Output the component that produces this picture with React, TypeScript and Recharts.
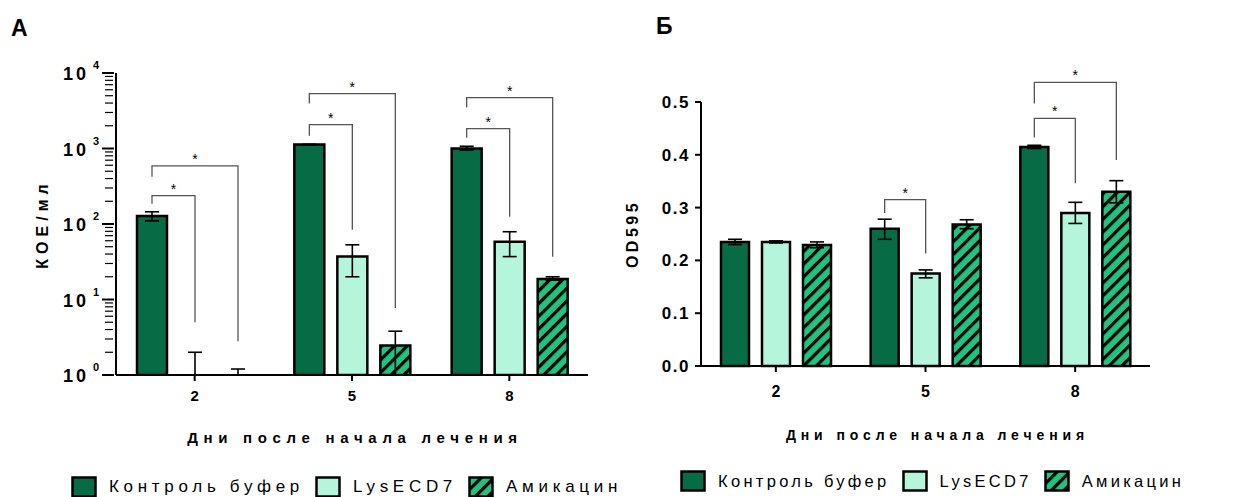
import React from "react";
import { Bar, BarChart, ErrorBar, Rectangle, XAxis, YAxis } from "recharts";

const days = ["2", "5", "8"];
const seriesNames = ["Контроль буфер", "LysECD7", "Амикацин"];

// Панель А — КОЕ/мл (лог шкала)
const cfuControl = [128, 1130, 1000];
const cfuControlErr = [[18, 17], [0, 0], [45, 70]];
const cfuLys = [1, 37, 58];
const cfuLysErr = [[0, 1], [17, 16], [21, 21]];
const cfuAmik = [1, 2.45, 18.7];
const cfuAmikErr = [[0, 0.2], [1.45, 1.35], [0.7, 1.3]];

// Панель Б — OD595
const odControl = [0.235, 0.26, 0.415];
const odControlErr = [[0.005, 0.005], [0.02, 0.018], [0.003, 0.003]];
const odLys = [0.235, 0.175, 0.29];
const odLysErr = [[0.002, 0.002], [0.008, 0.007], [0.02, 0.02]];
const odAmik = [0.229, 0.268, 0.33];
const odAmikErr = [[0.005, 0.006], [0.008, 0.009], [0.021, 0.021]];
const odTicks = [0, 0.1, 0.2, 0.3, 0.4, 0.5];

// скобки значимости: группа, от столбца, до столбца, верх, начало слева, конец справа
const cfuBrackets = [
  { g: 0, from: 0, to: 1, top: 237, left: 185, right: 5 },
  { g: 0, from: 0, to: 2, top: 590, left: 424, right: 2.8 },
  { g: 1, from: 0, to: 1, top: 2070, left: 1480, right: 84 },
  { g: 1, from: 0, to: 2, top: 5330, left: 3930, right: 7.7 },
  { g: 2, from: 0, to: 1, top: 1830, left: 1390, right: 125 },
  { g: 2, from: 0, to: 2, top: 4720, left: 3480, right: 36.7 },
];
const odBrackets = [
  { g: 1, from: 0, to: 1, top: 0.315, left: 0.29, right: 0.213 },
  { g: 2, from: 0, to: 1, top: 0.469, left: 0.433, right: 0.346 },
  { g: 2, from: 0, to: 2, top: 0.537, left: 0.497, right: 0.39 },
];

const DARK = "#076b45";
const MINT = "#b4f5dc";
const BRIGHT = "#1ec47f";
const FONT = "'Liberation Sans', Arial, sans-serif";
const BAR_GAP = 13;

const makeRows = (a: number[], ae: number[][], b: number[], be: number[][], c: number[], ce: number[][]) =>
  days.map((d, i) => ({ day: d, s0: a[i], e0: ae[i], s1: b[i], e1: be[i], s2: c[i], e2: ce[i] }));

const cfuData = makeRows(cfuControl, cfuControlErr, cfuLys, cfuLysErr, cfuAmik, cfuAmikErr);
const odData = makeRows(odControl, odControlErr, odLys, odLysErr, odAmik, odAmikErr);

const cfuAllTicks: number[] = [];
for (let k = 0; k < 4; k++) {
  for (let m = 1; m < 10; m++) cfuAllTicks.push(m * Math.pow(10, k));
}
cfuAllTicks.push(10000);

const Hatch = ({ id }: { id: string }) => (
  <defs>
    <pattern id={id} patternUnits="userSpaceOnUse" width="9" height="9" patternTransform="rotate(45)">
      <rect width="9" height="9" fill={BRIGHT} />
      <rect width="3.2" height="9" fill="#000" />
    </pattern>
  </defs>
);

// столбцы на уровне 10^0 не рисуем (нулевая высота), но усы остаются
const BarShape = (p: any) => (p.height < 1.5 ? <g /> : <Rectangle {...p} />);

const LogTick = (props: any) => {
  const { x, y, payload } = props;
  const v = payload.value;
  const exp = Math.round(Math.log10(v));
  const major = Math.abs(Math.log10(v) - exp) < 1e-6;
  if (!major) {
    return <line x1={x - 3} x2={x + 5} y1={y} y2={y} stroke="#000" strokeWidth={1.2} />;
  }
  return (
    <g>
      <line x1={x - 6} x2={x + 6} y1={y} y2={y} stroke="#000" strokeWidth={2} />
      <text x={x - 19} y={y + 7} textAnchor="end" fontFamily={FONT} fontWeight={700} fontSize={18} letterSpacing={3} fill="#000">
        10
      </text>
      <text x={x - 15} y={y - 4} textAnchor="start" fontFamily={FONT} fontWeight={700} fontSize={11} fill="#000">
        {exp}
      </text>
    </g>
  );
};

// скобки рисуются от столбца контроля; вертикальная шкала восстанавливается по самому столбцу
const bracketLabel = (list: typeof cfuBrackets, data: any[], isLog: boolean) => (props: any) => {
  const vb = props.viewBox && props.viewBox.width != null ? props.viewBox : props;
  const { x, y, width, height } = vb;
  let idx = props.index;
  if (idx == null) idx = data.findIndex((r) => r.s0 === props.value);
  const row = data[idx];
  if (!row) return null;
  const v = row.s0;
  const base = y + height;
  const toPx = (val: number) =>
    isLog ? base - (height * Math.log10(val)) / Math.log10(v) : base - (height * val) / v;
  const cx = x + width / 2;
  return (
    <g>
      {list
        .filter((b) => b.g === idx)
        .map((b, i) => {
          const x1 = cx + b.from * (width + BAR_GAP);
          const x2 = cx + b.to * (width + BAR_GAP);
          const yt = toPx(b.top);
          return (
            <g key={i}>
              <path
                d={`M${x1},${toPx(b.left)} V${yt} H${x2} V${toPx(b.right)}`}
                fill="none"
                stroke="#555"
                strokeWidth={1.3}
              />
              <text x={(x1 + x2) / 2} y={yt - 2} textAnchor="middle" fontFamily={FONT} fontSize={14} fill="#000">
                *
              </text>
            </g>
          );
        })}
    </g>
  );
};

const Legend = ({ left, top, hatchId, fontSize, spacing, gap }: { left: number; top: number; hatchId: string; fontSize: number; spacing: number; gap: number }) => {
  const fills = [DARK, MINT, `url(#${hatchId})`];
  return (
    <div style={{ position: "absolute", left, top, display: "flex", alignItems: "center", fontFamily: FONT, fontSize, letterSpacing: spacing, color: "#000", whiteSpace: "nowrap" }}>
      {seriesNames.map((n, i) => (
        <div key={n} style={{ display: "flex", alignItems: "center", marginRight: gap }}>
          <svg width={26} height={22} style={{ marginRight: 12 }}>
            <rect x={1.5} y={1.5} width={23} height={19} fill={fills[i]} stroke="#000" strokeWidth={2.5} />
          </svg>
          <span>{n}</span>
        </div>
      ))}
    </div>
  );
};

const axisTitle = { fontFamily: FONT, fontWeight: 700, fill: "#000" };
const err = { width: 7, stroke: "#000", strokeWidth: 1.6, direction: "y" as const };

export default function App() {
  return (
    <div style={{ position: "absolute", left: 0, top: 0, width: 1247, height: 497, background: "#fff", overflow: "hidden" }}>
      <div style={{ position: "absolute", left: 11, top: 15, fontFamily: FONT, fontWeight: 700, fontSize: 23 }}>А</div>
      <div style={{ position: "absolute", left: 656, top: 13, fontFamily: FONT, fontWeight: 700, fontSize: 23 }}>Б</div>

      <div style={{ position: "absolute", left: 0, top: 0 }}>
        <BarChart width={620} height={497} data={cfuData} margin={{ top: 73, right: 32, bottom: 52, left: 0 }} barSize={30} barGap={BAR_GAP} barCategoryGap={20}>
          <Hatch id="hatchA" />
          <XAxis dataKey="day" axisLine={{ stroke: "#000", strokeWidth: 2 }} tickLine={{ stroke: "#000", strokeWidth: 2 }} tickSize={6} tickMargin={9} height={70}
            tick={{ fontFamily: FONT, fontWeight: 700, fontSize: 15, fill: "#000" }}
            label={{ value: "Дни после начала лечения", position: "insideBottom", offset: 2, dx: 3, style: { ...axisTitle, fontSize: 15, letterSpacing: 5.7 } }} />
          <YAxis scale="log" domain={[1, 10000]} ticks={cfuAllTicks} interval={0} allowDataOverflow width={116}
            axisLine={{ stroke: "#000", strokeWidth: 2 }} tickLine={false} tick={<LogTick />}
            label={{ value: "КОЕ/мл", angle: -90, position: "insideLeft", offset: 42, style: { ...axisTitle, fontSize: 16, letterSpacing: 5, textAnchor: "middle" } }} />
          <Bar dataKey="s0" fill={DARK} stroke="#000" strokeWidth={2.5} isAnimationActive={false} label={bracketLabel(cfuBrackets, cfuData, true)}>
            <ErrorBar dataKey="e0" {...err} />
          </Bar>
          <Bar dataKey="s1" fill={MINT} stroke="#000" strokeWidth={2.5} minPointSize={1} shape={BarShape} isAnimationActive={false}>
            <ErrorBar dataKey="e1" {...err} />
          </Bar>
          <Bar dataKey="s2" fill="url(#hatchA)" stroke="#000" strokeWidth={2.5} minPointSize={1} shape={BarShape} isAnimationActive={false}>
            <ErrorBar dataKey="e2" {...err} />
          </Bar>
        </BarChart>
      </div>

      <div style={{ position: "absolute", left: 620, top: 0 }}>
        <BarChart width={627} height={497} data={odData} margin={{ top: 102, right: 97, bottom: 61, left: 0 }} barSize={28} barGap={BAR_GAP} barCategoryGap={20}>
          <Hatch id="hatchB" />
          <XAxis dataKey="day" axisLine={{ stroke: "#000", strokeWidth: 2 }} tickLine={{ stroke: "#000", strokeWidth: 2 }} tickSize={6} tickMargin={14} height={70}
            tick={{ fontFamily: FONT, fontWeight: 700, fontSize: 16, fill: "#000" }}
            label={{ value: "Дни после начала лечения", position: "insideBottom", offset: -4, dx: 12, style: { ...axisTitle, fontSize: 14, letterSpacing: 4.9 } }} />
          <YAxis domain={[0, 0.5]} ticks={odTicks} interval={0} width={81}
            axisLine={{ stroke: "#000", strokeWidth: 2 }} tickLine={{ stroke: "#000", strokeWidth: 2 }} tickSize={6} tickMargin={5}
            tickFormatter={(v: number) => v.toFixed(1)}
            tick={{ fontFamily: FONT, fontWeight: 700, fontSize: 17, fill: "#000", letterSpacing: 1.5 }}
            label={{ value: "OD595", angle: -90, position: "insideLeft", offset: 12, style: { ...axisTitle, fontSize: 16, letterSpacing: 3.5, textAnchor: "middle" } }} />
          <Bar dataKey="s0" fill={DARK} stroke="#000" strokeWidth={2.5} isAnimationActive={false} label={bracketLabel(odBrackets, odData, false)}>
            <ErrorBar dataKey="e0" {...err} />
          </Bar>
          <Bar dataKey="s1" fill={MINT} stroke="#000" strokeWidth={2.5} isAnimationActive={false}>
            <ErrorBar dataKey="e1" {...err} />
          </Bar>
          <Bar dataKey="s2" fill="url(#hatchB)" stroke="#000" strokeWidth={2.5} isAnimationActive={false}>
            <ErrorBar dataKey="e2" {...err} />
          </Bar>
        </BarChart>
      </div>

      <Legend left={71} top={476} hatchId="hatchA" fontSize={17} spacing={4.7} gap={11} />
      <Legend left={680} top={470} hatchId="hatchB" fontSize={16.5} spacing={3.3} gap={12} />
    </div>
  );
}
